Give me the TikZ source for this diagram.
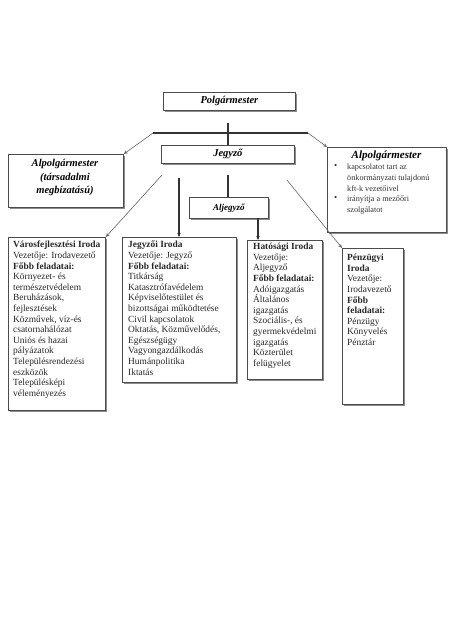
\documentclass[tikz,border=0pt]{standalone}
\usepackage{fontspec}
\setmainfont{Liberation Serif}
\usetikzlibrary{shadows,arrows.meta}
\lineskiplimit=-20pt
\begin{document}
\begin{tikzpicture}[x=1pt,y=-1pt,
  box/.style={draw=black!70, line width=0.8pt, fill=white,
    drop shadow={shadow xshift=1.6pt, shadow yshift=-1.6pt, fill=black!45, opacity=1},
    inner sep=0pt, anchor=north west},
  ttl/.style={font=\fontsize{10.5}{13.5}\selectfont\bfseries\itshape, align=center, inner sep=0pt},
  tx/.style={font=\fontsize{9.4}{10.6}\selectfont, text=black!85, align=left, inner sep=0pt, anchor=north west},
  sm/.style={font=\fontsize{8.2}{10.6}\selectfont, text=black!80, align=left, inner sep=0pt, anchor=north west},
  dk/.style={draw=black!80, line width=1.2pt},
  md/.style={draw=black!80, line width=1.3pt},
  lt/.style={draw=black!60, line width=0.6pt},
  tip/.style={-{Stealth[length=4pt,width=3.5pt]}}
]
\fill[white] (0,0) rectangle (454,642);
\useasboundingbox (0,0) rectangle (454,642);

% boxes
\node[box, minimum width=132pt, minimum height=18pt] (pm) at (163,92) {};
\node[box, minimum width=133pt, minimum height=18pt] (jegyzo) at (161,145) {};
\node[box, minimum width=115pt, minimum height=53pt] (alL) at (8,154) {};
\node[box, minimum width=119pt, minimum height=85pt] (alR) at (327,147) {};
\node[box, minimum width=79pt, minimum height=21pt] (aljegyzo) at (189,197) {};
\node[box, minimum width=97pt, minimum height=173pt] (varos) at (8,237) {};
\node[box, minimum width=114pt, minimum height=145pt] (jegyzoi) at (122,237) {};
\node[box, minimum width=75pt, minimum height=139pt] (hatosagi) at (247,240) {};
\node[box, minimum width=61pt, minimum height=156pt] (penz) at (342,248) {};

% titles
\node[ttl] (tpm) at (pm.center) {Polgármester};
\node[ttl] (tj) at (jegyzo.center) {Jegyző};
\node[ttl, font=\fontsize{9}{11}\selectfont\bfseries\itshape] (taj) at (aljegyzo.center) {Aljegyző};
\node[ttl, anchor=north] (tal) at (65,159.5) {Alpolgármester\\(társadalmi\\megbízatású)};
\node[ttl, font=\fontsize{11}{13}\selectfont\bfseries\itshape, anchor=north] (tar) at (386.5,151) {Alpolgármester};

% right box bullets
\node[sm, font=\fontsize{9}{10.6}\selectfont] (b1) at (334,164) {•};
\node[sm] (bt1) at (347,164) {kapcsolatot tart az\\önkormányzati tulajdonú\\kft-k vezetőivel};
\node[sm, font=\fontsize{9}{10.6}\selectfont] (b2) at (334,195.8) {•};
\node[sm] (bt2) at (347,195.8) {irányítja a mezőőri\\szolgálatot};

% office texts
\node[tx] (tv) at (13,241) {\textbf{Városfejlesztési Iroda}\\Vezetője: Irodavezető\\\textbf{Főbb feladatai:}\\Környezet- és\\természetvédelem\\Beruházások,\\fejlesztések\\Közművek, víz-és\\csatornahálózat\\Uniós és hazai\\pályázatok\\Településrendezési\\eszközök\\Településképi\\véleményezés};
\node[tx] (tji) at (128,241) {\textbf{Jegyzői Iroda}\\Vezetője: Jegyző\\\textbf{Főbb feladatai:}\\Titkárság\\Katasztrófavédelem\\Képviselőtestület és\\bizottságai működtetése\\Civil kapcsolatok\\Oktatás, Közművelődés,\\Egészségügy\\Vagyongazdálkodás\\Humánpolitika\\Iktatás};
\node[tx] (th) at (253,243) {\textbf{Hatósági Iroda}\\Vezetője:\\Aljegyző\\\textbf{Főbb feladatai:}\\Adóigazgatás\\Általános\\igazgatás\\Szociális-, és\\gyermekvédelmi\\igazgatás\\Közterület\\felügyelet};
\node[tx] (tp) at (347,254) {\textbf{Pénzügyi}\\\textbf{Iroda}\\Vezetője:\\Irodavezető\\\textbf{Főbb}\\\textbf{feladatai:}\\Pénzügy\\Könyvelés\\Pénztár};

% connectors
\coordinate (hl) at (153,133);
\coordinate (hr) at (308,133);
\coordinate (v0) at (228,123);
\draw[dk] (v0) -- (v0 |- jegyzo.north);
\draw[lt, {Stealth[length=4pt,width=3.5pt]}-{Stealth[length=4pt,width=3.5pt]}] (alL.north east) -- (hl) -- (hr) -- (alR.north west);
\draw[md] (hl) -- (hr);
\coordinate (j1) at (228,175);
\draw[dk] (j1) -- (j1 |- aljegyzo.north);
\coordinate (j2) at (179,178);
\draw[dk, tip] (j2) -- (j2 |- jegyzoi.north);
\coordinate (a1) at (258,218);
\draw[dk, tip] (a1) -- (a1 |- hatosagi.north);
\coordinate (d1) at (162,175);
\draw[lt, tip] (d1) -- (varos.north east);
\coordinate (d2) at (287,180);
\draw[lt, tip] (d2) -- (penz.north west);
\end{tikzpicture}
\end{document}
